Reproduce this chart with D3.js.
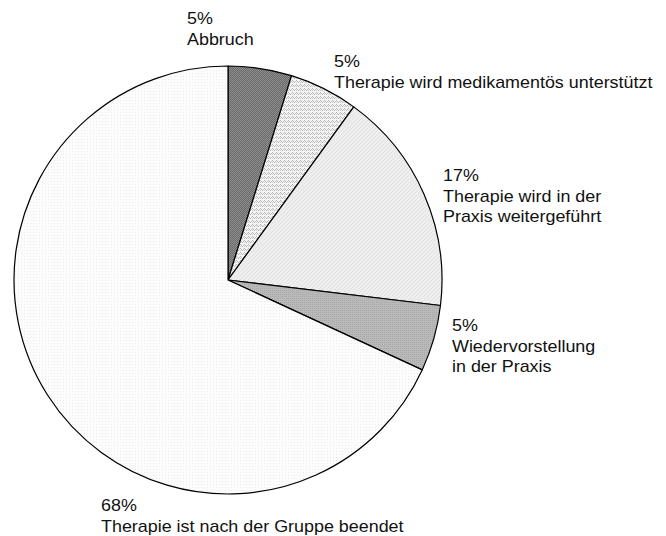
<!DOCTYPE html>
<html>
<head>
<meta charset="utf-8">
<script src="https://cdn.jsdelivr.net/npm/d3@7"></script>
<style>
  html, body { margin: 0; padding: 0; background: #fff; }
  svg { display: block; }
</style>
</head>
<body>
<svg id="chart" width="666" height="536"></svg>
<script>
// ---- data ----
const categories = [
  "Abbruch",
  "Therapie wird medikamentös unterstützt",
  "Therapie wird in der Praxis weitergeführt",
  "Wiedervorstellung in der Praxis",
  "Therapie ist nach der Gruppe beendet"
];
const values = [4.8, 5.2, 16.9, 5.0, 68.1];
const percentLabels = ["5%", "5%", "17%", "5%", "68%"];
const labelLines = [
  ["Abbruch"],
  ["Therapie wird medikamentös unterstützt"],
  ["Therapie wird in der", "Praxis weitergeführt"],
  ["Wiedervorstellung", "in der Praxis"],
  ["Therapie ist nach der Gruppe beendet"]
];

// ---- layout ----
const cx = 228, cy = 280, radius = 214;
const labelPos = [[187, 24], [334, 67], [443, 181], [452, 331], [101, 511]];
const lineStep = 20.5;
const fills = ["url(#p0)", "url(#p1)", "url(#p2)", "url(#p3)", "url(#p4)"];

const svg = d3.select("#chart");
const defs = svg.append("defs");

function pattern(id, w, h, bg, dots) {
  const p = defs.append("pattern").attr("id", id)
    .attr("patternUnits", "userSpaceOnUse").attr("width", w).attr("height", h);
  p.append("rect").attr("width", w).attr("height", h).attr("fill", bg);
  dots.forEach(([x, y, c]) => p.append("rect").attr("x", x).attr("y", y)
    .attr("width", 1).attr("height", 1).attr("fill", c));
}
pattern("p0", 2, 2, "#6a6a6a", [[0, 0, "#8e8e8e"], [1, 1, "#8e8e8e"]]);
pattern("p1", 4, 4, "#f4f4f4", [[0, 0, "#b4b4b4"], [1, 1, "#bcbcbc"], [2, 2, "#b4b4b4"], [3, 1, "#c4c4c4"], [0, 2, "#d0d0d0"]]);
pattern("p2", 4, 4, "#eeeeee", [[0, 3, "#e2e2e2"], [1, 2, "#e2e2e2"], [2, 1, "#e2e2e2"], [3, 0, "#e2e2e2"]]);
pattern("p3", 2, 2, "#b9b9b9", [[0, 0, "#a9a9a9"]]);
pattern("p4", 3, 3, "#fcfcfc", [[0, 0, "#ececec"]]);

const pie = d3.pie().sort(null).value(d => d);
const arc = d3.arc().innerRadius(0).outerRadius(radius);

const g = svg.append("g").attr("transform", `translate(${cx},${cy})`);
g.selectAll("path")
  .data(pie(values))
  .join("path")
  .attr("d", arc)
  .attr("fill", (d, i) => fills[i])
  .attr("stroke", "#000")
  .attr("stroke-width", 1.2)
  .attr("stroke-linejoin", "round");

const labels = svg.append("g")
  .attr("font-family", "'Liberation Sans', Arial, sans-serif")
  .attr("font-size", 16)
  .attr("fill", "#111");

categories.forEach((c, i) => {
  const [x, y] = labelPos[i];
  const lines = [percentLabels[i]].concat(labelLines[i]);
  lines.forEach((t, j) => {
    labels.append("text")
      .attr("transform", `translate(${x},${y + j * lineStep}) scale(1.12,1)`)
      .text(t);
  });
});
</script>
</body>
</html>
